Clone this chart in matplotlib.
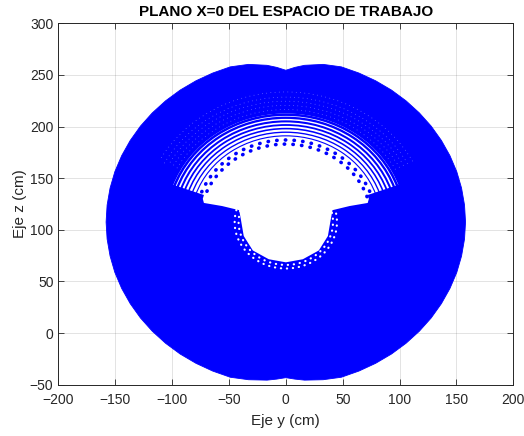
import matplotlib
matplotlib.use("Agg")
import matplotlib.pyplot as plt
from matplotlib.patches import Arc, Wedge

# workspace outline (y, z in cm), anticlockwise from the right
outer_y = [158, 157.1, 154.5, 150.3, 144.3, 136.8, 127.8, 117.4, 105.7, 92.9, 79.0, 64.3, 48.8, 32.8, 16.5, 8, 0,
           -8, -16.5, -32.8, -48.8, -64.3, -79.0, -92.9, -105.7, -117.4, -127.8, -136.8, -144.3, -150.3, -154.5, -157.1,
           -158, -157.1, -154.5, -150.3, -144.3, -136.8, -127.8, -117.4, -105.7, -92.9, -79.0, -64.3, -48.8, -32.8,
           -16.5, -8, 0, 8, 16.5, 32.8, 48.8, 64.3, 79.0, 92.9, 105.7, 117.4, 127.8, 136.8, 144.3, 150.3, 154.5, 157.1]
outer_z = [107.5, 124.0, 140.4, 156.3, 171.8, 186.5, 200.4, 213.2, 224.9, 235.3, 244.3, 251.8, 257.8, 260.2, 259.3, 257.3, 254.5,
           257.3, 259.3, 260.2, 257.8, 251.8, 244.3, 235.3, 224.9, 213.2, 200.4, 186.5, 171.8, 156.3, 140.4, 124.0,
           107.5, 91.0, 74.6, 58.7, 43.2, 28.5, 14.6, 1.8, -9.9, -20.3, -29.3, -36.8, -42.8, -45.2,
           -45.6, -44.6, -43.2, -44.6, -45.6, -45.2, -42.8, -36.8, -29.3, -20.3, -9.9, 1.8, 14.6, 28.5, 43.2, 58.7, 74.6, 91.0]

# empty region in the middle
hole_y = [0, -20, -38, -52, -63, -70, -73, -72, -56, -41, -39.5, -37, -29, -15, 0,
          15, 29, 37, 39.5, 41, 56, 72, 73, 70, 63, 52, 38, 20]
hole_z = [183, 181, 175, 166, 154, 141, 130, 126, 123, 119, 110, 94, 80, 71.5, 68.5,
          71.5, 80, 94, 110, 119, 123, 126, 130, 141, 154, 166, 175, 181]

# shoulder centre and the dotted rings seen around the hole
center = (0, 107.5)
upper_rings = [75.5, 79.5, 83.5, 87, 90.5, 94, 97.5, 101, 104]
upper_speckle = [109, 113, 117, 121, 126]
lower_rings = [41.5, 45]

y_ticks = list(range(-200, 201, 50))
z_ticks = list(range(-50, 301, 50))

plt.rcParams['font.family'] = ['Liberation Sans', 'DejaVu Sans']

fig = plt.figure(figsize=(5.24, 4.36), dpi=100)
ax = fig.add_axes([0.1113, 0.1177, 0.8683, 0.8289])

blue = (0, 0, 1)
ax.fill(outer_y, outer_z, color=blue, lw=0.6, zorder=2)
ax.fill(hole_y, hole_z, color='white', lw=0, zorder=3)
ax.add_patch(Wedge(center, 106, 20, 160, color='white', lw=0, zorder=3))

for i, r in enumerate(upper_rings):
    if i < 2:
        a = Arc(center, 2 * r, 2 * r, theta1=19, theta2=161, color=blue, lw=2.6,
                linestyle=(i * 1.2, (0.1, 2.3)), capstyle='round', zorder=4)
    else:
        a = Arc(center, 2 * r, 2 * r, theta1=19, theta2=161, color=blue,
                lw=0.8 + 0.17 * (i - 2), zorder=4)
    ax.add_patch(a)
ax.add_patch(Arc(center, 2 * 106.5, 2 * 106.5, theta1=19, theta2=161, color=blue, lw=2.0, zorder=4))

for r in upper_speckle:
    ax.add_patch(Arc(center, 2 * r, 2 * r, theta1=28, theta2=152, color='white', lw=0.6,
                     linestyle=(0, (0.1, 5)), capstyle='round', alpha=0.5, zorder=5))
for r in lower_rings:
    ax.add_patch(Arc(center, 2 * r, 2 * r, theta1=165, theta2=15, color='white', lw=1.6,
                     linestyle=(0, (0.1, 2.6)), capstyle='round', zorder=5))

ax.set_xlim(-200, 200)
ax.set_ylim(-50, 300)
ax.set_xticks(y_ticks)
ax.set_yticks(z_ticks)
ax.set_axisbelow(True)
ax.grid(True, color=(0.15, 0.15, 0.15), alpha=0.15, lw=0.6)
ax.tick_params(direction='in', top=True, right=True, length=4, width=0.6,
               colors=(0.15, 0.15, 0.15), labelsize=10)
ax.tick_params(axis='x', pad=6)
for s in ax.spines.values():
    s.set_color((0.15, 0.15, 0.15))
    s.set_linewidth(0.7)

ax.set_xlabel('Eje y (cm)', fontsize=11, color=(0.15, 0.15, 0.15), labelpad=5)
ax.set_ylabel('Eje z (cm)', fontsize=11, color=(0.15, 0.15, 0.15), labelpad=2)
ax.set_title('PLANO X=0 DEL ESPACIO DE TRABAJO', fontsize=11, fontweight='bold', pad=5)

fig.savefig('out.png', dpi=100)
